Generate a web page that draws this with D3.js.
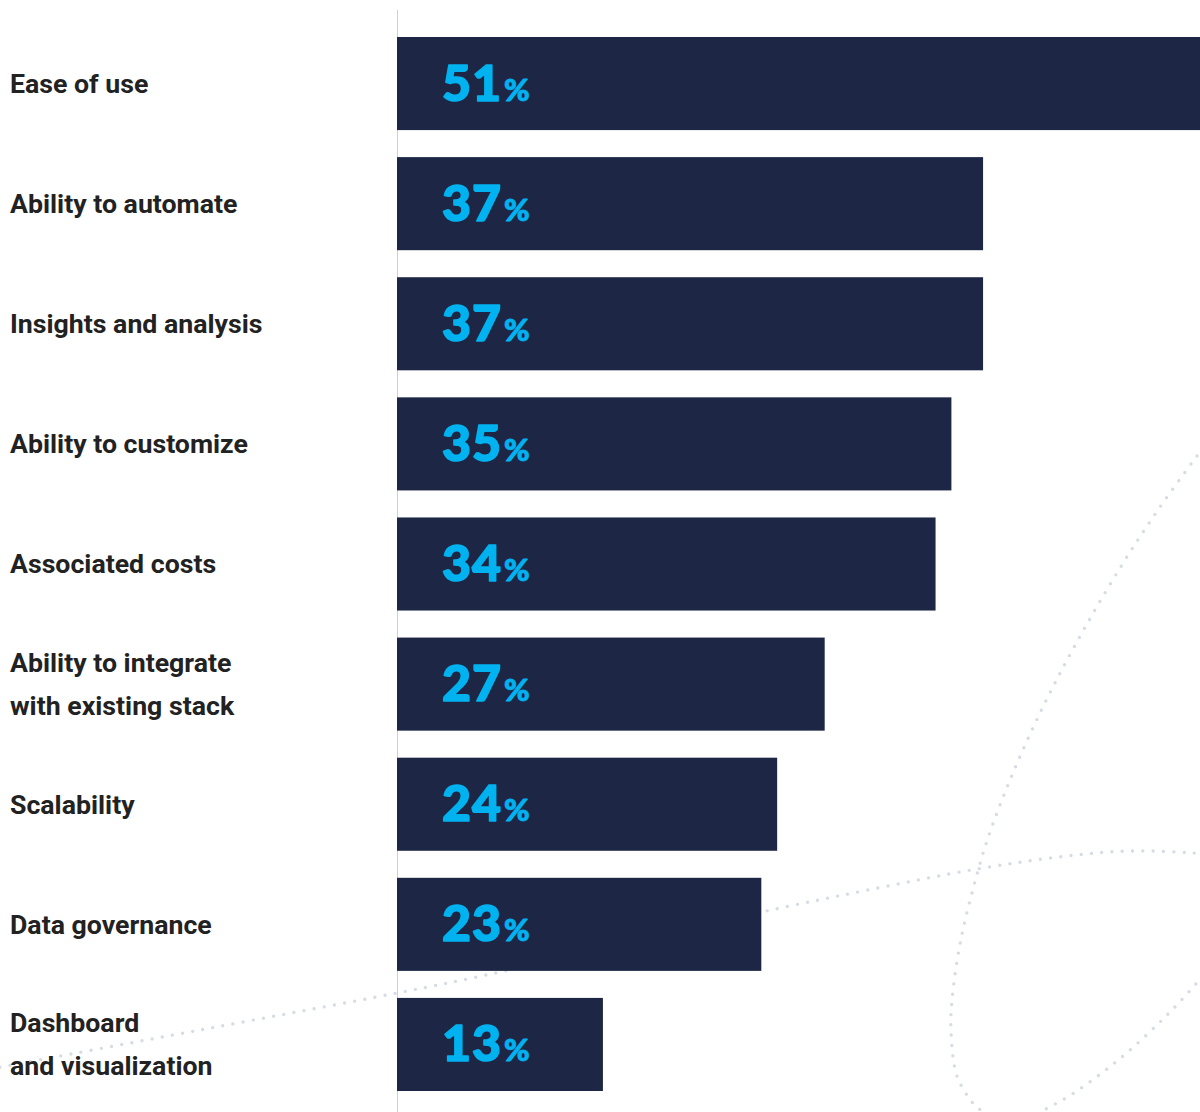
<!DOCTYPE html>
<html lang="en">
<head>
<meta charset="utf-8">
<title>Reasons for choosing a tool</title>
<script src="https://cdn.jsdelivr.net/npm/d3@7"></script>
<style>
  body { margin: 0; background: #fff; }
  .label { font-family: Roboto, "Noto Sans", Arial, sans-serif; font-weight: 700; font-size: 26.7px; fill: #222; }
  .pct { font-family: Lato, "Noto Sans", sans-serif; font-weight: 900; fill: #00b3f0; stroke: #00b3f0; stroke-linejoin: round; }
  .decor { fill: none; stroke: #d5dce3; stroke-width: 3.4; stroke-linecap: round; stroke-dasharray: 0 10.3; }
</style>
</head>
<body>
<div id="chart"></div>
<script>
// data
var categories = ["Ease of use", "Ability to automate", "Insights and analysis", "Ability to customize",
                  "Associated costs", "Ability to integrate\nwith existing stack", "Scalability",
                  "Data governance", "Dashboard\nand visualization"];
var values = [51, 37, 37, 35, 34, 27, 24, 23, 13];

// background dotted swirls (decoration only)
var swirlA = [[1197,456],[1160,507],[1120,568],[1073,649],[1040,713],[1010,780],[988,838],[976,878],
              [961,939],[952,1000],[951,1032],[956,1073],[965,1092],[978,1108],[1008,1122],
              [1057,1103],[1117,1061],[1170,1012],[1210,968]];
var swirlB = [[-10,1069],[200,1030],[397,993],[500,972],[762,912],[863,891],[977,869],[1067,856],
              [1130,851],[1193,853],[1220,856]];

var width = 1200, height = 1112;

var svg = d3.select("#chart").append("svg")
    .attr("width", width)
    .attr("height", height);

var x = d3.scaleLinear().domain([0, 100]).range([397, 397 + 1584]);
var y = d3.scaleBand().domain(categories).range([37, 1091]).paddingInner(0.225).paddingOuter(0);

var line = d3.line().curve(d3.curveCatmullRom.alpha(0.5));
svg.append("path").attr("class", "decor").attr("d", line(swirlA));
svg.append("path").attr("class", "decor").attr("d", line(swirlB));

// axis line
svg.append("line")
    .attr("x1", x(0) + 0.5).attr("x2", x(0) + 0.5)
    .attr("y1", 10).attr("y2", height)
    .style("stroke", "#d0d0d0")
    .style("stroke-width", 1);

var rows = svg.selectAll(".row")
    .data(categories)
    .enter()
    .append("g")
    .attr("class", "row");

rows.append("rect")
    .attr("x", x(0))
    .attr("y", function(d){ return y(d); })
    .attr("width", function(d, i){ return x(values[i]) - x(0); })
    .attr("height", y.bandwidth())
    .style("fill", "#1d2745");

rows.each(function(d){
    var lines = d.split("\n");
    var cy = y(d) + y.bandwidth() / 2;
    var t = d3.select(this).append("text").attr("class", "label");
    lines.forEach(function(l, k){
        t.append("tspan")
         .attr("x", 10)
         .attr("y", cy + (k - (lines.length - 1) / 2) * 43)
         .attr("dy", "0.35em")
         .text(l);
    });
});

var pct = rows.append("text")
    .attr("class", "pct")
    .attr("x", x(0) + 45)
    .attr("y", function(d){ return y(d) + y.bandwidth() / 2 + 17; });

pct.append("tspan")
    .style("font-size", "50px")
    .style("stroke-width", 1.6)
    .style("letter-spacing", "1px")
    .text(function(d, i){ return values[i]; });

pct.append("tspan")
    .style("font-size", "31px")
    .style("stroke-width", 0.9)
    .attr("dx", 2)
    .text("%");
</script>
</body>
</html>
